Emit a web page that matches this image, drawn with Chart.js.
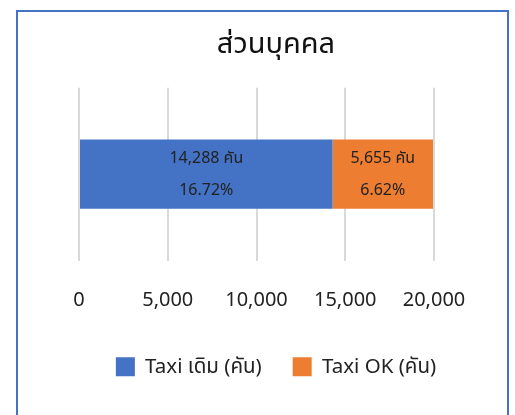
<!DOCTYPE html>
<html lang="th">
<head>
    <meta charset="UTF-8">
    <title>ส่วนบุคคล</title>
    <script src="https://cdn.jsdelivr.net/npm/chart.js"></script>
    <style>
        html, body { margin: 0; padding: 0; background: #fff; }
        body { width: 515px; height: 415px; position: relative; overflow: hidden; }
        .frame { position: absolute; left: 16px; top: 10px; width: 489px; height: 420px; border: 2px solid #4472C4; }
        .chart-box { position: absolute; left: 0; top: 0; width: 515px; height: 415px; }
    </style>
</head>
<body>
    <div class="frame"></div>
    <div class="chart-box"><canvas id="chart" width="515" height="415"></canvas></div>
    <script>
        const categories = ['ส่วนบุคคล'];
        const seriesNames = ['Taxi เดิม (คัน)', 'Taxi OK (คัน)'];
        const oldTaxi = [14288];
        const okTaxi = [5655];
        const oldPercent = ['16.72%'];
        const okPercent = ['6.62%'];
        const tickValues = [0, 5000, 10000, 15000, 20000];

        const fontFamily = "'Noto Sans', 'Noto Sans Thai', 'Tahoma', sans-serif";

        // two-line label in the middle of each bar segment
        const segmentLabels = {
            id: 'segmentLabels',
            afterDatasetsDraw(chart) {
                const ctx = chart.ctx;
                const percents = [oldPercent, okPercent];
                ctx.save();
                ctx.fillStyle = '#222';
                ctx.font = `16px ${fontFamily}`;
                ctx.textAlign = 'center';
                ctx.textBaseline = 'middle';
                chart.data.datasets.forEach((ds, i) => {
                    chart.getDatasetMeta(i).data.forEach((bar, j) => {
                        const cx = (bar.x + bar.base) / 2;
                        ctx.fillText(ds.data[j].toLocaleString('en-US') + ' คัน', cx, bar.y - 16);
                        ctx.fillText(percents[i][j], cx, bar.y + 16);
                    });
                });
                ctx.restore();
            }
        };

        new Chart(document.getElementById('chart'), {
            type: 'bar',
            data: {
                labels: categories,
                datasets: [
                    { label: seriesNames[0], data: oldTaxi, backgroundColor: '#4472C4' },
                    { label: seriesNames[1], data: okTaxi, backgroundColor: '#ED7D31' }
                ]
            },
            options: {
                indexAxis: 'y',
                responsive: false,
                animation: false,
                barPercentage: 0.8,
                categoryPercentage: 0.5,
                layout: { padding: { left: 37, right: 0, top: 0, bottom: 28 } },
                scales: {
                    x: {
                        stacked: true,
                        min: 0,
                        max: 20000,
                        afterBuildTicks: axis => { axis.ticks = tickValues.map(v => ({ value: v })); },
                        afterFit: axis => { axis.height = 65; },
                        grid: { color: '#d9d9d9', lineWidth: 2, drawTicks: false },
                        border: { display: false },
                        ticks: {
                            padding: 28,
                            color: '#222',
                            font: { family: fontFamily, size: 20 },
                            callback: v => v.toLocaleString('en-US')
                        }
                    },
                    y: {
                        stacked: true,
                        grid: { display: false },
                        border: { display: false },
                        ticks: { display: false },
                        afterFit: axis => { axis.width = 42; }
                    },
                    yRight: {
                        type: 'category',
                        axis: 'y',
                        position: 'right',
                        grid: { display: false },
                        border: { display: false },
                        ticks: { display: false },
                        afterFit: axis => { axis.width = 81; }
                    }
                },
                plugins: {
                    title: {
                        display: true,
                        text: categories[0],
                        color: '#111',
                        font: { family: fontFamily, size: 29, weight: 'normal' },
                        padding: { top: 27, bottom: 26 }
                    },
                    legend: {
                        position: 'bottom',
                        labels: {
                            boxWidth: 19,
                            boxHeight: 19,
                            padding: 31,
                            color: '#222',
                            font: { family: fontFamily, size: 20.5 }
                        }
                    },
                    tooltip: { enabled: false }
                }
            },
            plugins: [segmentLabels]
        });
    </script>
</body>
</html>
